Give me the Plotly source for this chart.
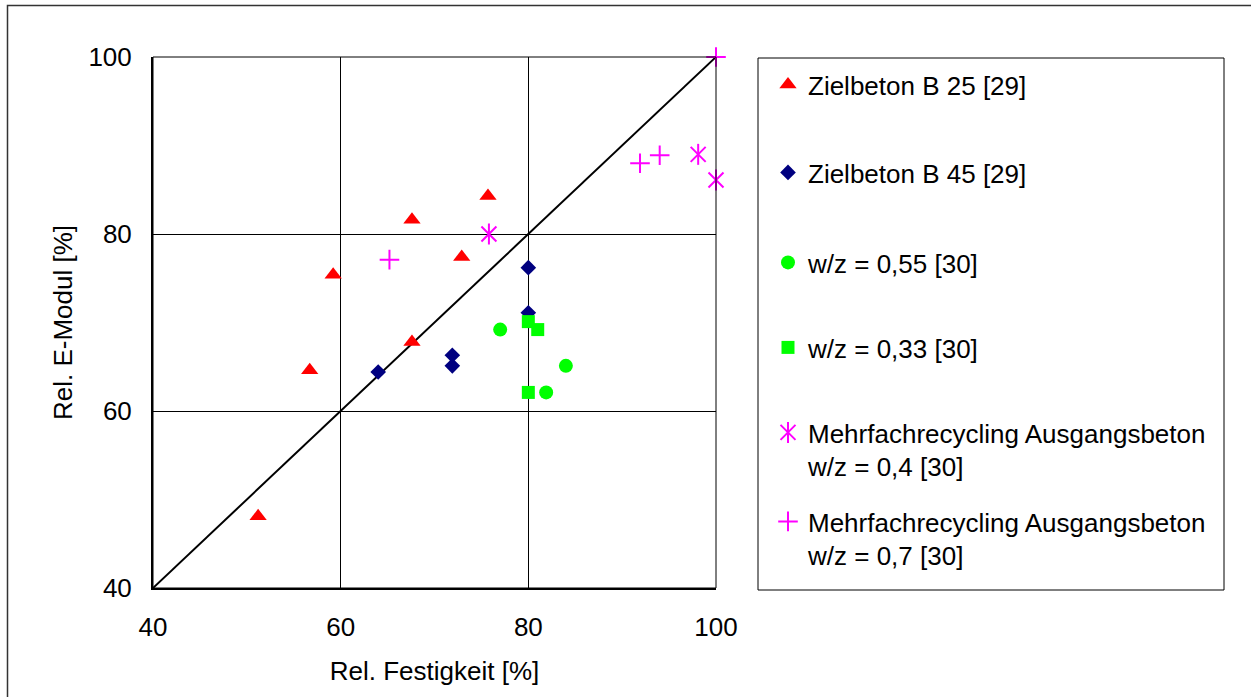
import plotly.graph_objects as go

# ---------------- data ----------------
B25_X = [59.2, 67.6, 75.7, 72.9, 67.6, 56.7, 51.2]
B25_Y = [75.4, 81.6, 84.3, 77.4, 67.8, 64.6, 48.1]

B45_X = [64.0, 71.9, 71.9, 80.0, 80.0]
B45_Y = [64.4, 66.3, 65.1, 76.2, 71.1]

WZ055_X = [77.0, 84.0, 81.9]
WZ055_Y = [69.2, 65.1, 62.1]

WZ033_X = [80.0, 81.0, 80.0]
WZ033_Y = [70.1, 69.2, 62.1]

MR04_X = [75.8, 98.1, 100.0]
MR04_Y = [80.0, 89.0, 86.1]

MR07_X = [65.2, 91.9, 94.0, 100.0]
MR07_Y = [77.1, 88.0, 88.9, 100.0]

DIAG_X = [40, 100]
DIAG_Y = [40, 100]

TICKS = [40, 60, 80, 100]

NAMES = [
    "Zielbeton B 25 [29]",
    "Zielbeton B 45 [29]",
    "w/z = 0,55 [30]",
    "w/z = 0,33 [30]",
    "Mehrfachrecycling Ausgangsbeton<br>w/z = 0,4 [30]",
    "Mehrfachrecycling Ausgangsbeton<br>w/z = 0,7 [30]",
]

# ---------------- layout geometry ----------------
W, H = 1251, 697
L, R, T, B = 153, 716, 57, 588
FONT = "Liberation Sans, Arial, sans-serif"
FS = 26
MAGENTA = "#FF00FF"


def px(x):
    return (x - L) / (R - L)


def py(y):
    return (B - y) / (B - T)


fig = go.Figure()

fig.add_trace(go.Scatter(x=DIAG_X, y=DIAG_Y, mode="lines",
                         line=dict(color="black", width=2),
                         showlegend=False, hoverinfo="skip"))

fig.add_trace(go.Scatter(x=B25_X, y=B25_Y, mode="markers", name=NAMES[0],
                         marker=dict(symbol="triangle-up", size=15, color="#FF0000"),
                         legend="legend", cliponaxis=False))
fig.add_trace(go.Scatter(x=B45_X, y=B45_Y, mode="markers", name=NAMES[1],
                         marker=dict(symbol="diamond", size=12, color="#000080"),
                         legend="legend2", cliponaxis=False))
fig.add_trace(go.Scatter(x=WZ055_X, y=WZ055_Y, mode="markers", name=NAMES[2],
                         marker=dict(symbol="circle", size=14, color="#00FF00"),
                         legend="legend3", cliponaxis=False))
fig.add_trace(go.Scatter(x=WZ033_X, y=WZ033_Y, mode="markers", name=NAMES[3],
                         marker=dict(symbol="square", size=13, color="#00FF00"),
                         legend="legend4", cliponaxis=False))
fig.add_trace(go.Scatter(x=MR04_X, y=MR04_Y, mode="markers", name=NAMES[4],
                         marker=dict(symbol="x-thin-open", size=15, color=MAGENTA,
                                     line=dict(color=MAGENTA, width=2)),
                         legend="legend5", cliponaxis=False))
fig.add_trace(go.Scatter(x=MR04_X, y=MR04_Y, mode="markers", name="",
                         marker=dict(symbol="line-ns-open", size=15, color=MAGENTA,
                                     line=dict(color=MAGENTA, width=2)),
                         legend="legend7", hoverinfo="skip", cliponaxis=False))
fig.add_trace(go.Scatter(x=MR07_X, y=MR07_Y, mode="markers", name=NAMES[5],
                         marker=dict(symbol="cross-thin-open", size=14, color=MAGENTA,
                                     line=dict(color=MAGENTA, width=2)),
                         legend="legend6", cliponaxis=False))

# legend positions (first text line centres)
LEG_TEXT_LEFT = 808
LEG_CENTERS = [87, 175, 265, 350, 435, 524]
leg_ids = ["legend", "legend2", "legend3", "legend4", "legend5", "legend6"]
legends = {}
for lid, cy in zip(leg_ids, LEG_CENTERS):
    legends[lid] = dict(
        x=px(LEG_TEXT_LEFT - 40), y=py(cy - 26), xanchor="left", yanchor="top",
        bgcolor="rgba(0,0,0,0)", borderwidth=0, valign="top",
        font=dict(family=FONT, size=FS, color="black"),
    )
legends["legend7"] = dict(legends["legend5"])

axis_common = dict(
    range=[40, 100], tickvals=TICKS, ticktext=[str(t) for t in TICKS],
    showgrid=True, gridcolor="black", gridwidth=1,
    showline=True, linecolor="black", linewidth=2,
    zeroline=False, ticks="",
    tickfont=dict(family=FONT, size=FS, color="black"),
)

fig.update_layout(
    width=W, height=H,
    margin=dict(l=L, r=W - R, t=T, b=H - B, autoexpand=False),
    paper_bgcolor="white", plot_bgcolor="white",
    font=dict(family=FONT, size=FS, color="black"),
    xaxis=dict(axis_common, ticklabelstandoff=15,
               title=dict(text="Rel. Festigkeit [%]", standoff=21,
                          font=dict(family=FONT, size=FS, color="black"))),
    yaxis=dict(axis_common, ticklabelstandoff=14,
               title=dict(text="Rel. E-Modul [%]", standoff=8,
                          font=dict(family=FONT, size=FS, color="black"))),
    shapes=[
        # plot frame (thin top/right)
        dict(type="rect", xref="paper", yref="paper", x0=0, x1=1, y0=0, y1=1,
             line=dict(color="black", width=1), layer="above"),
        # legend box
        dict(type="rect", xref="paper", yref="paper",
             x0=px(758), x1=px(1224), y0=py(590), y1=py(58),
             line=dict(color="black", width=1)),
        # chart area border
        dict(type="rect", xref="paper", yref="paper",
             x0=px(7.5), x1=px(1262), y0=py(712), y1=py(5.5),
             line=dict(color="#333333", width=1.5)),
    ],
    hovermode="closest",
    **legends,
)

fig.write_html("out.html")
